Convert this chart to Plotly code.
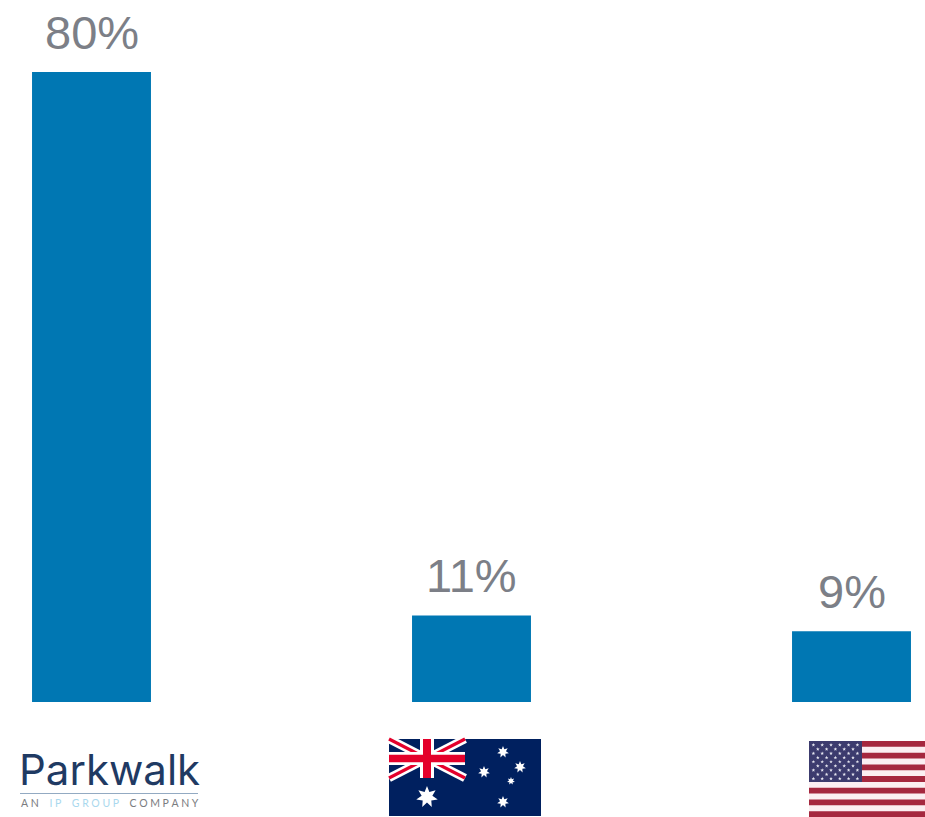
import math
import plotly.graph_objects as go

# Share of funding by investor group
categories = ["Parkwalk", "Australia", "USA"]
shares = [80, 11, 9]
share_labels = ["80%", "11%", "9%"]

WIDTH, HEIGHT = 925, 817
BLUE = "#0077B3"
GREY = "#7C7F87"
NAVY = "#00205F"
FLAG_RED = "#E4002B"
US_RED = "#A5283F"
US_NAVY = "#3C3B6E"
US_WHITE = "#FBEFF2"
LOGO_NAVY = "#1F3A63"
THIN = "\u2009"


def px(x):
    return x / WIDTH


def py(y):
    return 1 - y / HEIGHT


def rect(x0, y0, x1, y1, color):
    return dict(type="rect", xref="paper", yref="paper",
                x0=px(x0), x1=px(x1), y0=py(y0), y1=py(y1),
                fillcolor=color, line_width=0, layer="above")


def polygon(points, color):
    path = "M " + " L ".join(f"{px(x):.5f},{py(y):.5f}" for x, y in points) + " Z"
    return dict(type="path", xref="paper", yref="paper", path=path,
                fillcolor=color, line_width=0, layer="above")


def band(x0, y0, x1, y1, half, color):
    """Straight band of constant thickness between two points."""
    dx, dy = x1 - x0, y1 - y0
    n = math.hypot(dx, dy)
    ox, oy = -dy / n * half, dx / n * half
    return polygon([(x0 + ox, y0 + oy), (x1 + ox, y1 + oy),
                    (x1 - ox, y1 - oy), (x0 - ox, y0 - oy)], color)


def star(cx, cy, outer, inner, points, color):
    verts = []
    for i in range(points * 2):
        r = outer if i % 2 == 0 else inner
        a = -math.pi / 2 + i * math.pi / points
        verts.append((cx + r * math.cos(a), cy + r * math.sin(a)))
    return polygon(verts, color)


def australian_flag():
    x0, y0, x1, y1 = 389, 739, 541, 816
    cx1, cy1 = 465, 778
    mx, my = (x0 + cx1) / 2, (y0 + cy1) / 2
    s = [rect(x0, y0, x1, y1, NAVY)]
    s.append(band(x0, y0, cx1, cy1, 4.2, "white"))
    s.append(band(x0, cy1, cx1, y0, 4.2, "white"))
    s.append(band(x0, y0, cx1, cy1, 1.6, FLAG_RED))
    s.append(band(x0, cy1, cx1, y0, 1.6, FLAG_RED))
    s.append(rect(mx - 7, y0, mx + 7, cy1, "white"))
    s.append(rect(x0, my - 6.5, cx1, my + 6.5, "white"))
    s.append(rect(mx - 4, y0, mx + 4, cy1, FLAG_RED))
    s.append(rect(x0, my - 3.7, cx1, my + 3.7, FLAG_RED))
    s.append(star(427, 797, 11, 5.5, 7, "white"))
    for cx, cy, r in [(503, 752, 6), (520, 767, 6), (484, 772, 6),
                      (511, 781, 4), (503, 802, 6)]:
        s.append(star(cx, cy, r, r * 0.5, 7, "white"))
    return s


def american_flag():
    x0, y0, x1 = 809, 741, 925
    step = 76 / 13
    s = [rect(x0, y0, x1, y0 + 13 * step, US_WHITE)]
    for i in range(0, 13, 2):
        s.append(rect(x0, y0 + i * step, x1, y0 + (i + 1) * step, US_RED))
    s.append(rect(x0, y0, 862, y0 + 7 * step, US_NAVY))
    for row in range(9):
        count = 6 if row % 2 == 0 else 5
        for col in range(count):
            cx = x0 + 4.4 + col * 8.8 + (0 if row % 2 == 0 else 4.4)
            cy = y0 + 4 + row * 4.2
            s.append(star(cx, cy, 1.9, 0.8, 5, "#E6E6F0"))
    return s


def spaced(word):
    return (THIN * 2).join(word)


fig = go.Figure(go.Bar(
    x=categories,
    y=shares,
    width=0.313,
    marker=dict(color=BLUE, line_width=0),
    cliponaxis=False,
    hoverinfo="skip",
))

# Value labels sit a fixed distance above each bar
value_labels = [
    dict(x=c, y=v, text=t, xref="x", yref="y", xanchor="center", yanchor="bottom",
         yshift=11, showarrow=False,
         font=dict(family="Liberation Sans, Arial, sans-serif", size=47, color=GREY))
    for c, v, t in zip(categories, shares, share_labels)
]

logo_rule = dict(type="line", xref="paper", yref="paper",
                 x0=px(20), x1=px(198), y0=py(793.5), y1=py(793.5),
                 line=dict(color="#93AAC2", width=1), layer="above")

GAP = "    "
logo_tagline = (
    f'{spaced("AN")}{GAP}<span style="color:#A9D8EE">{spaced("IP")}{GAP}{spaced("GROUP")}</span>'
    f'{GAP}{spaced("COMPANY")}'
)

fig.update_layout(
    width=WIDTH,
    height=HEIGHT,
    margin=dict(l=0, r=0, t=0, b=0),
    paper_bgcolor="white",
    plot_bgcolor="white",
    showlegend=False,
    xaxis=dict(visible=False, type="category", categoryorder="array",
               categoryarray=categories,
               range=[-91.5 / 380, (925 - 91.5) / 380]),
    yaxis=dict(visible=False, range=[-115 / 7.875, 702 / 7.875]),
    shapes=australian_flag() + american_flag() + [logo_rule],
    annotations=value_labels + [
        dict(text="Parkwalk", xref="paper", yref="paper", x=px(109), y=py(769.5),
             xanchor="center", yanchor="middle", showarrow=False,
             font=dict(family="Inter, sans-serif", size=42, weight=400, color=LOGO_NAVY)),
        dict(text=logo_tagline, xref="paper", yref="paper", x=px(109.5), y=py(803),
             xanchor="center", yanchor="middle", showarrow=False,
             font=dict(family="Lato, sans-serif", size=10.5, color="#7A7C80")),
    ],
)

fig.write_html("out.html", config=dict(displayModeBar=False))
